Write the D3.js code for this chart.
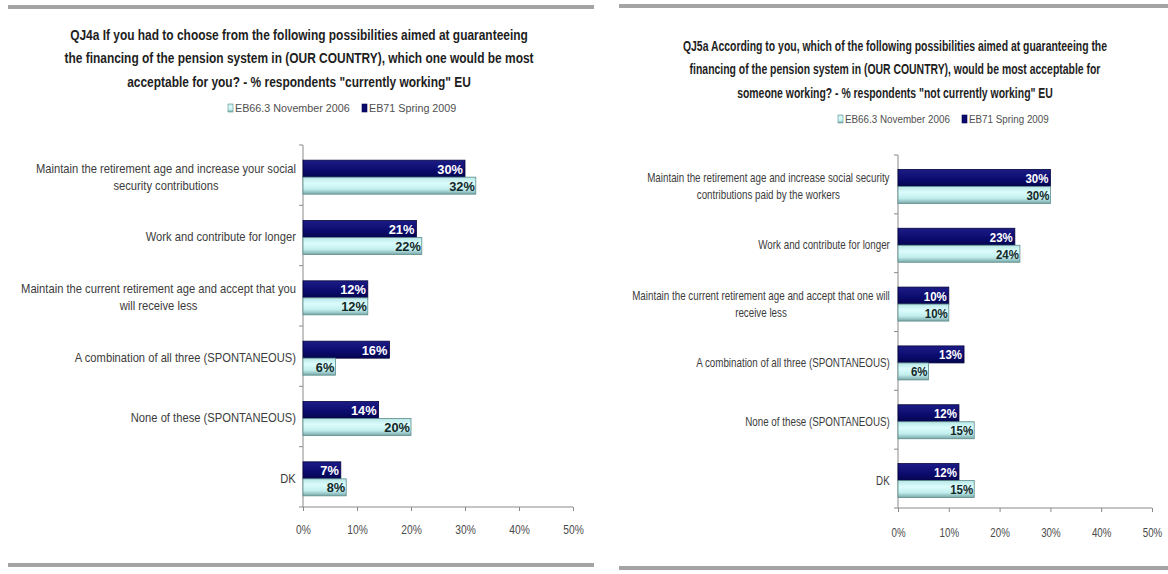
<!DOCTYPE html>
<html>
<head>
<meta charset="utf-8">
<script src="https://cdn.jsdelivr.net/npm/d3@7"></script>
<style>
body { margin: 0; background: #fff; }
svg { display: block; }
text { font-family: "Liberation Sans", Arial, sans-serif; }
</style>
</head>
<body>
<svg id="chart"></svg>
<script>
var width = 1168;
var height = 574;

// shared
var seriesNames = ["EB66.3 November 2006", "EB71 Spring 2009"];
var tickValues = [0, 10, 20, 30, 40, 50];

// left chart: "currently working"
var leftTitle = [
  "QJ4a If you had to choose from the following possibilities aimed at guaranteeing",
  "the financing of the pension system in (OUR COUNTRY), which one would be most",
  "acceptable for you? - % respondents \"currently working\" EU"
];
var leftCategories = [
  "Maintain the retirement age and increase your social\nsecurity contributions",
  "Work and contribute for longer",
  "Maintain the current retirement age and accept that you\nwill receive less",
  "A combination of all three (SPONTANEOUS)",
  "None of these (SPONTANEOUS)",
  "DK"
];
var leftSpring2009 = [30, 21, 12, 16, 14, 7];
var leftNov2006 = [32, 22, 12, 6, 20, 8];

// right chart: "not currently working"
var rightTitle = [
  "QJ5a According to you, which of the following possibilities aimed at guaranteeing the",
  "financing of the pension system in (OUR COUNTRY), would be most acceptable for",
  "someone working?  - % respondents \"not currently working\" EU"
];
var rightCategories = [
  "Maintain the retirement age and increase social security\ncontributions paid by the workers",
  "Work and contribute for longer",
  "Maintain the current retirement age and accept that one will\nreceive less",
  "A combination of all three (SPONTANEOUS)",
  "None of these (SPONTANEOUS)",
  "DK"
];
var rightSpring2009 = [30, 23, 10, 13, 12, 12];
var rightNov2006 = [30, 24, 10, 6, 15, 15];

var svg = d3.select("#chart").attr("width", width).attr("height", height);

var defs = svg.append("defs");
var grad = defs.append("linearGradient").attr("id", "lightGrad")
  .attr("x1", 0).attr("y1", 0).attr("x2", 0).attr("y2", 1);
grad.append("stop").attr("offset", "0%").attr("stop-color", "#b9e6e6");
grad.append("stop").attr("offset", "35%").attr("stop-color", "#dcfcfc");
grad.append("stop").attr("offset", "70%").attr("stop-color", "#c2eeee");
grad.append("stop").attr("offset", "100%").attr("stop-color", "#79a7a7");
var gradD = defs.append("linearGradient").attr("id", "darkGrad")
  .attr("x1", 0).attr("y1", 0).attr("x2", 0).attr("y2", 1);
gradD.append("stop").attr("offset", "0%").attr("stop-color", "#1c1c86");
gradD.append("stop").attr("offset", "60%").attr("stop-color", "#0b0b6e");
gradD.append("stop").attr("offset", "100%").attr("stop-color", "#05054f");

// grey separator rules
var rules = [
  {x: 8, y: 5, w: 586, h: 4},
  {x: 8, y: 563, w: 586, h: 4},
  {x: 619, y: 4, w: 549, h: 4},
  {x: 619, y: 566, w: 549, h: 4}
];
svg.selectAll("rect.rule").data(rules).enter().append("rect")
  .attr("class", "rule")
  .attr("x", function(d){ return d.x; })
  .attr("y", function(d){ return d.y; })
  .attr("width", function(d){ return d.w; })
  .attr("height", function(d){ return d.h; })
  .attr("fill", "#a4a4a4");

drawChart({
  title: leftTitle, categories: leftCategories, dark: leftSpring2009, light: leftNov2006,
  titleX: 299, titleY: 40, titleStep: 23.5, titleSize: 14, titleFit: 470,
  legendX: 228, legendY: 112, legendFit: 115,
  x0: 303, x1: 573, y0: 145, y1: 507,
  labelRight: 296, labelSize: 12.5, labelStep: 17, labelFit: 275,
  tickPad: 14, barH: 17, valueSx: 0.95, tickSx: 0.82
});

drawChart({
  title: rightTitle, categories: rightCategories, dark: rightSpring2009, light: rightNov2006,
  titleX: 895, titleY: 51, titleStep: 23.5, titleSize: 14, titleFit: 425,
  legendX: 838, legendY: 123, legendFit: 105,
  x0: 898, x1: 1152, y0: 155, y1: 508,
  labelRight: 890, labelSize: 12.5, labelStep: 17, labelFit: 258,
  tickPad: 16, barH: 17, valueSx: 0.85, tickSx: 0.78
});

function squeezeAt(sel, ax, sx){
  sel.attr("transform", "translate(" + ax + ",0) scale(" + sx + ",1) translate(" + (-ax) + ",0)");
}

function drawChart(c){
  var g = svg.append("g");

  // title
  var title = g.append("text")
    .attr("text-anchor", "middle")
    .attr("font-weight", "bold")
    .attr("font-size", c.titleSize)
    .attr("fill", "#1e1e1e");
  title.selectAll("tspan").data(c.title).enter().append("tspan")
    .attr("x", c.titleX)
    .attr("y", function(d, i){ return c.titleY + i * c.titleStep; })
    .text(function(d){ return d; });
  squeezeAt(title, c.titleX, c.titleFit / title.node().getBBox().width);

  // legend
  var lx = c.legendX;
  var legendItems = [
    {name: seriesNames[0], fill: "url(#lightGrad)", stroke: "#5f9090"},
    {name: seriesNames[1], fill: "#0b0b6e", stroke: "#05054f"}
  ];
  var legendSx = null;
  legendItems.forEach(function(item){
    g.append("rect")
      .attr("x", lx).attr("y", c.legendY - 8)
      .attr("width", 5).attr("height", 8)
      .attr("fill", item.fill).attr("stroke", item.stroke).attr("stroke-width", 0.6);
    var t = g.append("text")
      .attr("x", lx + 7).attr("y", c.legendY)
      .attr("font-size", 11.5)
      .attr("fill", "#505050")
      .text(item.name);
    var w = t.node().getComputedTextLength();
    if (legendSx === null) legendSx = c.legendFit / w;
    squeezeAt(t, lx + 7, legendSx);
    lx += 7 + w * legendSx + 12;
  });

  var x = d3.scaleLinear().domain([0, 50]).range([c.x0, c.x1]);
  var y = d3.scaleBand().domain(c.categories).range([c.y0, c.y1]);

  // x axis
  var xAxis = g.append("g")
    .attr("transform", "translate(0," + c.y1 + ")")
    .call(d3.axisBottom(x).tickValues(tickValues).tickSize(4).tickPadding(c.tickPad)
      .tickFormat(function(d){ return d + "%"; }));
  xAxis.select(".domain").attr("stroke", "#8a8a8a").attr("d", "M" + c.x0 + ",0H" + c.x1);
  xAxis.selectAll(".tick line").attr("stroke", "#8a8a8a");
  xAxis.selectAll(".tick text")
    .attr("font-size", 12.5)
    .attr("font-family", "\"Liberation Sans\", Arial, sans-serif")
    .attr("fill", "#4a4a4a")
    .attr("transform", "scale(" + c.tickSx + ",1)");

  // y axis line with ticks at band edges
  var yEdges = c.categories.map(function(d){ return y(d); }).concat([c.y1]);
  g.append("line")
    .attr("x1", c.x0).attr("x2", c.x0)
    .attr("y1", c.y0).attr("y2", c.y1)
    .attr("stroke", "#8a8a8a");
  g.selectAll("line.ytick").data(yEdges).enter().append("line")
    .attr("class", "ytick")
    .attr("x1", c.x0 - 4).attr("x2", c.x0)
    .attr("y1", function(d){ return d; }).attr("y2", function(d){ return d; })
    .attr("stroke", "#8a8a8a");

  // category labels: centred lines, block right-aligned
  var labels = [];
  c.categories.forEach(function(cat){
    var lines = cat.split("\n");
    var mid = y(cat) + y.bandwidth() / 2 + 2;
    var t = g.append("text")
      .attr("text-anchor", "middle")
      .attr("font-size", c.labelSize)
      .attr("fill", "#3c3c3c");
    var spans = t.selectAll("tspan").data(lines).enter().append("tspan")
      .attr("x", 0)
      .attr("y", function(d, i){ return mid + 4 + (i - (lines.length - 1) / 2) * c.labelStep; })
      .text(function(d){ return d; });
    labels.push({t: t, spans: spans, w: t.node().getBBox().width});
  });
  var labelSx = c.labelFit / d3.max(labels, function(d){ return d.w; });
  labels.forEach(function(l){
    l.spans.attr("x", c.labelRight - l.w / 2);
    squeezeAt(l.t, c.labelRight, labelSx);
  });

  var rows = c.categories.map(function(cat, i){
    return {cat: cat, dark: c.dark[i], light: c.light[i]};
  });

  // EB71 Spring 2009 bars (top)
  g.selectAll("rect.dark").data(rows).enter().append("rect")
    .attr("class", "dark")
    .attr("x", c.x0)
    .attr("y", function(d){ return y(d.cat) + y.bandwidth() / 2 + 2 - c.barH; })
    .attr("width", function(d){ return x(d.dark) - c.x0; })
    .attr("height", c.barH)
    .attr("fill", "url(#darkGrad)")
    .attr("stroke", "#04043c").attr("stroke-width", 0.8);

  // EB66.3 November 2006 bars (bottom)
  g.selectAll("rect.light").data(rows).enter().append("rect")
    .attr("class", "light")
    .attr("x", c.x0)
    .attr("y", function(d){ return y(d.cat) + y.bandwidth() / 2 + 2; })
    .attr("width", function(d){ return x(d.light) - c.x0; })
    .attr("height", c.barH)
    .attr("fill", "url(#lightGrad)")
    .attr("stroke", "#5c8c8c").attr("stroke-width", 0.8);

  // value labels
  g.selectAll("text.vdark").data(rows).enter().append("text")
    .attr("class", "vdark")
    .attr("x", function(d){ return x(d.dark) - 2; })
    .attr("y", function(d){ return y(d.cat) + y.bandwidth() / 2 + 2 - c.barH / 2 + 5; })
    .attr("text-anchor", "end")
    .attr("font-size", 13.5).attr("font-weight", "bold")
    .attr("fill", "#ffffff")
    .text(function(d){ return d.dark + "%"; })
    .each(function(d){ squeezeAt(d3.select(this), x(d.dark) - 2, c.valueSx); });

  g.selectAll("text.vlight").data(rows).enter().append("text")
    .attr("class", "vlight")
    .attr("x", function(d){ return x(d.light) - 1; })
    .attr("y", function(d){ return y(d.cat) + y.bandwidth() / 2 + 2 + c.barH / 2 + 5; })
    .attr("text-anchor", "end")
    .attr("font-size", 13.5).attr("font-weight", "bold")
    .attr("fill", "#142828")
    .text(function(d){ return d.light + "%"; })
    .each(function(d){ squeezeAt(d3.select(this), x(d.light) - 1, c.valueSx); });
}
</script>
</body>
</html>
